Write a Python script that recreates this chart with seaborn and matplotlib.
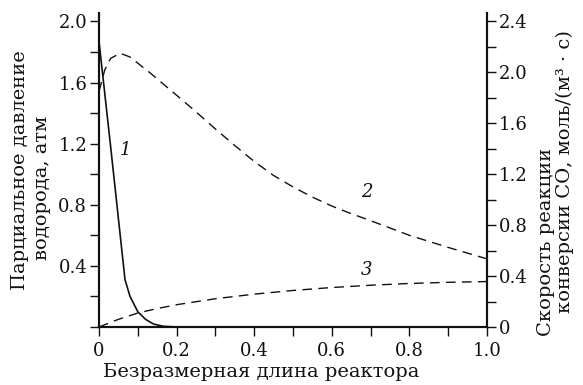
import numpy as np
import pandas as pd
import matplotlib.pyplot as plt
import seaborn as sns
from matplotlib.ticker import MultipleLocator, FuncFormatter

# Curve 1: partial pressure of hydrogen (left axis)
x1 = [0.0, 0.03, 0.067, 0.08, 0.1, 0.12, 0.14, 0.165, 0.2, 0.5, 1.0]
p_h2 = [1.87, 1.18, 0.31, 0.2, 0.1, 0.05, 0.02, 0.005, 0.0, 0.0, 0.0]

# Curves 2 and 3: CO conversion rate (right axis)
x2 = [0.0, 0.015, 0.03, 0.055, 0.08, 0.13, 0.2, 0.25, 0.3, 0.35, 0.4, 0.45, 0.5,
      0.55, 0.6, 0.65, 0.7, 0.8, 0.9, 1.0]
rate2 = [1.85, 2.02, 2.11, 2.15, 2.12, 2.0, 1.82, 1.69, 1.555, 1.425, 1.30, 1.19, 1.10,
         1.02, 0.95, 0.89, 0.835, 0.72, 0.625, 0.535]
x3 = [0.0, 0.05, 0.1, 0.15, 0.2, 0.3, 0.4, 0.5, 0.6, 0.7, 0.8, 0.9, 1.0]
rate3 = [0.0, 0.06, 0.11, 0.145, 0.175, 0.222, 0.258, 0.287, 0.31, 0.328, 0.342, 0.351, 0.357]

sns.set_style("ticks")
plt.rcParams["font.family"] = ["DejaVu Serif"]
fs = 13
lfs = 14

W, H = 583, 385
fig = plt.figure(figsize=(W / 100, H / 100), dpi=100)
ax = fig.add_axes([99 / W, 1 - 327 / H, 388 / W, 314 / H])
ax2 = ax.twinx()

c = "#111111"
sns.lineplot(x=x1, y=p_h2, ax=ax, color=c, linewidth=1.2)
sns.lineplot(x=x2, y=rate2, ax=ax2, color=c, linewidth=1.0)
sns.lineplot(x=x3, y=rate3, ax=ax2, color=c, linewidth=1.0)
for ln in ax2.lines:
    ln.set_dashes((7, 4.5))

ax.set_xlim(0, 1.0)
ax.set_ylim(0, 2.055)
ax2.set_ylim(0, 2.466)

fmt = FuncFormatter(lambda v, p: "0" if abs(v) < 1e-9 else f"{v:.1f}")
ax.xaxis.set_major_locator(MultipleLocator(0.2))
ax.xaxis.set_minor_locator(MultipleLocator(0.1))
ax.xaxis.set_major_formatter(fmt)
ax.yaxis.set_major_locator(MultipleLocator(0.4))
ax.yaxis.set_minor_locator(MultipleLocator(0.2))
ax.yaxis.set_major_formatter(FuncFormatter(lambda v, p: "" if abs(v) < 1e-9 else f"{v:.1f}"))
ax2.yaxis.set_major_locator(MultipleLocator(0.4))
ax2.yaxis.set_minor_locator(MultipleLocator(0.2))
ax2.yaxis.set_major_formatter(fmt)

for a in (ax, ax2):
    for s in a.spines.values():
        s.set_linewidth(1.5)
        s.set_color(c)
    a.spines["top"].set_visible(False)
    a.tick_params(which="both", direction="out", length=6.5, width=1.0, colors=c, labelcolor=c)
    a.tick_params(which="major", labelsize=fs, pad=2)
ax.tick_params(axis="x", pad=4)

ax.set_xlabel("Безразмерная длина реактора", fontsize=lfs, color=c, va="baseline")
ax.xaxis.set_label_coords((261.5 - 99) / 388, -(377 - 327) / 314)

# axis titles set line by line, as in the original layout
def vtext(px, py, s):
    fig.text(px / W, 1 - py / H, s, rotation=90, rotation_mode="anchor",
             ha="center", va="baseline", fontsize=lfs, color=c)

vtext(25, 170, "Парциальное давление")
vtext(47, 188, "водорода, атм")
vtext(551, 242, "Скорость реакции")
vtext(570, 172, "конверсии СО, моль/(м³ · с)")

ax.text(0.067, 1.16, "1", fontstyle="italic", fontsize=fs, color=c, ha="center", va="center")
ax2.text(0.69, 1.06, "2", fontstyle="italic", fontsize=fs, color=c, ha="center", va="center")
ax2.text(0.69, 0.45, "3", fontstyle="italic", fontsize=fs, color=c, ha="center", va="center")

fig.savefig("out.png", dpi=100)
